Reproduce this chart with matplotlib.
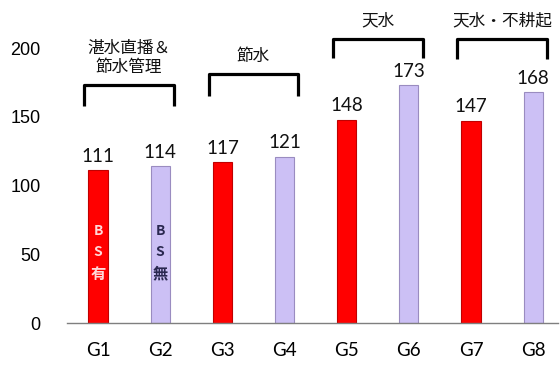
import matplotlib
matplotlib.use("Agg")
import matplotlib.pyplot as plt

plt.rcParams['font.family'] = ['Noto Sans CJK JP', 'DejaVu Sans']

groups = ["G1", "G2", "G3", "G4", "G5", "G6", "G7", "G8"]
values = [111, 114, 117, 121, 148, 173, 147, 168]
bs_flag = [True, False, True, False, True, False, True, False]

# bracket annotations: (first index, last index, bracket top, bracket foot, label)
bracket_labels = ["湛水直播＆\n節水管理", "節水", "天水", "天水・不耕起"]
bracket_spans = [(0, 1), (2, 3), (4, 5), (6, 7)]
bracket_tops = [173, 181, 207, 207]
bracket_feet = [158, 165, 193, 192]

red = "#FF0000"
lav = "#CCC0F5"
num_font = ["Lato", "DejaVu Sans"]

fig = plt.figure(figsize=(5.6, 3.65), dpi=100)
ax = fig.add_axes([67/560, 1-323/365, (558-67)/560, 274.8/365])

x = list(range(len(groups)))
colors = [red if f else lav for f in bs_flag]
edges = ["#C00000" if f else "#9A8CC0" for f in bs_flag]
ax.bar(x, values, width=0.31, color=colors, edgecolor=edges, linewidth=0.8, zorder=2)

for xi, v in zip(x, values):
    ax.annotate(str(v), (xi, v), xytext=(0, 4), textcoords="offset points",
                ha="center", va="bottom", fontsize=13.5, family=num_font,
                color="#111111", annotation_clip=False)

# vertical "BS有 / BS無" labels inside the first two bars
for xi, txt, col in [(0, ["B", "S", "有"], "#FFD8D8"), (1, ["B", "S", "無"], "#2A2850")]:
    for k, ch in enumerate(txt):
        ax.text(xi, 67 - k * 15.5, ch, ha="center", va="center",
                fontsize=10 if k < 2 else 11, fontweight="bold", color=col, zorder=3)

for (a, b), top, foot, lab in zip(bracket_spans, bracket_tops, bracket_feet, bracket_labels):
    x0, x1 = a - 0.22, b + 0.22
    ax.plot([x0, x0, x1, x1], [foot, top, top, foot], color="black", lw=2.3,
            solid_joinstyle="round", solid_capstyle="butt", clip_on=False, zorder=4)
    ax.text((a + b) / 2, top + 7, lab, ha="center", va="bottom", fontsize=12,
            linespacing=1.15, color="#111111")

ax.set_xlim(-0.5, 7.4)
ax.set_ylim(0, 200)
ax.set_yticks([0, 50, 100, 150, 200])
ax.set_xticks(x)
ax.set_xticklabels(groups, fontsize=13.5, family=num_font)
ax.tick_params(axis="y", length=0, labelsize=13, pad=19)
ax.tick_params(axis="x", length=0, pad=14)
for lbl in ax.get_yticklabels():
    lbl.set_family(["Liberation Sans", "DejaVu Sans"])
for s in ["top", "right", "left"]:
    ax.spines[s].set_visible(False)
ax.spines["bottom"].set_color("#7F7F7F")
ax.spines["bottom"].set_linewidth(1.0)

fig.savefig("out.png", dpi=100)
